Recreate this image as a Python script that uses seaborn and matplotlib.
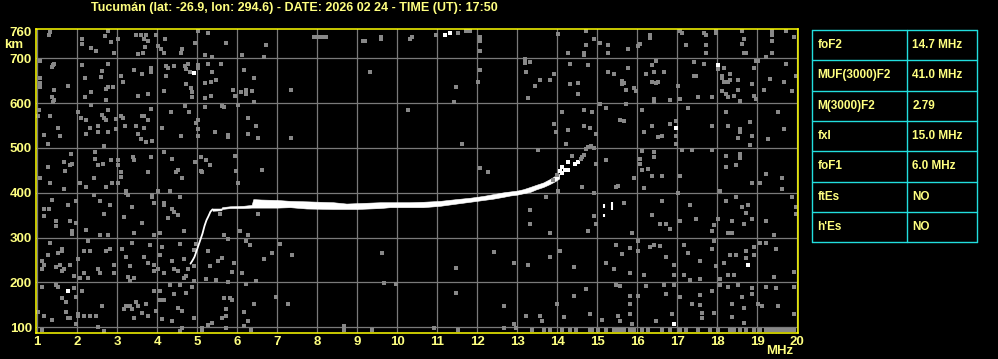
import matplotlib
matplotlib.use("Agg")
import matplotlib.pyplot as plt
import seaborn as sns
import pandas as pd

sns.set_style("dark")
plt.rcParams['font.family'] = ['Liberation Sans', 'DejaVu Sans']
plt.rcParams['font.weight'] = 'bold'

TITLE = "Tucumán (lat: -26.9, lon: 294.6) - DATE: 2026 02 24 - TIME (UT): 17:50"
freq_ticks = list(range(1, 21))
height_ticks = [100, 200, 300, 400, 500, 600, 700, 760]

param_names = ["foF2", "MUF(3000)F2", "M(3000)F2", "fxI", "foF1", "ftEs", "h'Es"]
param_values = ["14.7 MHz", "41.0 MHz", "2.79", "15.0 MHz", "6.0 MHz", "NO", "NO"]

# ---- O-trace: rising foot of the F layer
rise_freq = [4.83, 4.88, 4.93, 5.08, 5.13, 5.18, 5.23, 5.28, 5.33, 5.38]
rise_height = [242, 249, 257, 296, 309, 326, 339, 348, 358, 363]

# ---- main F trace band (lower / upper edge)
band_freq = [5.38, 5.60, 5.62, 5.82, 6.15, 6.36, 6.40, 6.60, 7.00, 7.32, 7.73, 8.40, 8.73,
             9.00, 9.57, 9.82, 10.30, 10.65, 11.07, 11.48, 11.82, 12.15, 12.40, 12.65,
             12.82, 13.00, 13.15, 13.32, 13.48, 13.65, 13.80, 13.95, 14.05]
band_low = [360, 361, 364, 366, 366, 367, 367, 367, 367, 368, 365, 364, 364,
            364, 366, 368, 368, 368, 371, 376, 380, 384, 387, 391,
            394, 396, 399, 402, 408, 413, 419, 426, 432]
band_high = [365, 365, 368, 370, 371, 373, 386, 385, 384, 382, 381, 379, 376,
             377, 379, 379, 379, 380, 382, 386, 389, 393, 397, 401,
             403, 405, 408, 413, 418, 423, 430, 438, 442]

# ---- broken top of the trace near foF2
cusp_white_freq = [14.07, 14.13, 14.13, 14.20, 14.28, 14.28, 14.45, 14.53]
cusp_white_height = [449, 457, 444, 452, 450, 469, 464, 469]
cusp_gray_freq = [13.90, 14.00, 14.60, 14.63, 14.68, 14.73, 14.78, 14.85]
cusp_gray_height = [428, 440, 476, 479, 484, 497, 502, 505]

# ---- X-trace fragments
xtrace_freq = [15.18, 15.18, 15.38]
xtrace_low = [366, 345, 362]
xtrace_high = [376, 353, 380]

# ---- background noise (freq MHz, height km)
noise_top_left = [
    (1.33, 758), (1.30, 752), (2.78, 761), (2.13, 743), (2.13, 732), (2.34, 724), (2.47, 717),
    (2.70, 749), (2.84, 736), (3.03, 742), (2.93, 712), (3.48, 751), (3.59, 752), (3.73, 752),
    (3.68, 743), (3.78, 739), (3.51, 710), (3.65, 712), (3.70, 725), (3.98, 752), (4.01, 728),
    (4.09, 721), (4.20, 743), (4.18, 712), (4.63, 721), (4.59, 712), (5.03, 761), (5.28, 756),
    (4.95, 734), (5.20, 707), (5.38, 703), (5.73, 734), (6.13, 707), (6.73, 730), (6.68, 703),
    (1.08, 693), (1.40, 685), (1.43, 688), (1.38, 680), (1.08, 655), (1.08, 645), (1.08, 635),
    (1.43, 630), (1.38, 613), (1.43, 608), (1.40, 603), (1.78, 639), (2.13, 684), (2.20, 655),
    (2.63, 672), (2.59, 658), (2.76, 687), (2.78, 635), (2.72, 632), (2.90, 635), (2.34, 624),
    (2.20, 613), (2.73, 608), (3.09, 661), (3.15, 648), (3.43, 675), (3.63, 665), (3.84, 678),
    (3.84, 669), (3.78, 620), (3.53, 617), (4.23, 682), (4.28, 678), (4.43, 682), (4.70, 682),
    (4.78, 687), (4.73, 676), (4.82, 669), (4.73, 643), (4.84, 633), (4.88, 624), (4.88, 613),
    (4.18, 626), (4.23, 661), (5.03, 685), (5.03, 678), (5.28, 687), (5.38, 669), (5.59, 687),
    (5.20, 646), (5.34, 648), (5.48, 652), (5.20, 611), (5.34, 617), (5.90, 630), (5.95, 617),
    (6.23, 630), (6.38, 626), (6.23, 620), (6.09, 624), (6.43, 603), (6.18, 675), (6.43, 655),
    (1.05, 585), (1.03, 572), (1.33, 571), (1.53, 545), (1.58, 527), (1.18, 529), (1.28, 509),
    (2.03, 581), (2.10, 566), (2.23, 563), (2.34, 596), (2.32, 544), (2.23, 531), (2.63, 574),
    (2.68, 566), (2.53, 550), (2.53, 536), (2.73, 563), (2.78, 585), (2.78, 536), (2.97, 565),
    (2.98, 542), (3.09, 571), (3.15, 566), (3.20, 550), (3.48, 550), (3.63, 571), (3.68, 572),
    (3.78, 563), (3.84, 587), (3.68, 544), (3.53, 531), (3.59, 520), (3.73, 513), (3.88, 516),
    (4.13, 544), (4.34, 580), (4.59, 527), (4.80, 580), (4.70, 593), (4.98, 556), (5.03, 563),
    (5.03, 542), (5.03, 527), (5.20, 591), (5.45, 536), (5.63, 593), (5.68, 591), (5.78, 529),
    (5.78, 524), (6.03, 596), (6.28, 566), (6.48, 550), (6.28, 531), (6.53, 523), (2.68, 505),
    (1.84, 487), (1.68, 469), (1.88, 464), (1.83, 461), (1.70, 449), (1.28, 457), (1.08, 432),
    (2.45, 492), (2.45, 475), (2.51, 461), (2.65, 464), (2.84, 474), (2.43, 432), (3.03, 474),
    (3.03, 461), (3.09, 446), (3.09, 435), (3.40, 481), (3.43, 474), (3.84, 479), (3.76, 447),
    (4.18, 492), (4.38, 475), (4.53, 452), (4.47, 446), (4.62, 432), (5.09, 479), (5.22, 474),
    (5.32, 461), (4.95, 468), (5.09, 449), (5.13, 446), (5.95, 483), (5.98, 449), (6.63, 452),
]
noise_top_right = [
    (7.93, 748), (8.03, 748), (8.13, 748), (8.23, 748), (9.15, 739), (9.20, 739), (9.59, 747),
    (9.59, 743), (10.38, 747), (10.33, 743), (10.98, 752), (11.53, 756), (11.73, 761),
    (11.83, 761), (12.08, 748), (12.08, 739), (12.08, 716), (9.33, 670), (12.08, 675),
    (12.03, 648), (11.48, 635), (11.43, 603), (7.34, 630), (13.19, 698), (13.19, 690),
    (13.33, 691), (13.23, 670), (13.58, 652), (13.44, 639), (13.28, 612), (10.28, 585),
    (7.34, 523), (11.63, 510), (13.53, 496), (12.08, 456), (12.28, 447),
    (14.03, 754), (14.73, 761), (14.93, 743), (14.73, 730), (14.28, 712), (14.68, 712),
    (14.68, 707), (15.08, 734), (15.28, 730), (15.28, 712), (15.78, 721), (16.08, 732),
    (16.03, 728), (16.33, 752), (16.33, 745), (17.08, 761), (17.13, 756), (17.23, 730),
    (17.68, 756), (17.73, 751), (17.73, 730), (17.73, 712), (17.98, 761), (17.98, 756),
    (18.63, 761), (18.68, 743), (18.63, 732), (18.68, 712), (18.73, 712), (19.38, 761),
    (19.38, 752), (19.38, 739), (19.73, 761), (19.93, 748), (19.38, 712), (19.23, 703),
    (14.33, 687), (14.78, 684), (13.93, 665), (13.83, 652), (14.33, 643), (14.53, 646),
    (14.53, 620), (15.28, 670), (15.43, 665), (15.63, 650), (15.68, 646), (15.63, 643),
    (15.78, 678), (15.73, 630), (15.93, 633), (15.98, 628), (16.38, 684), (16.48, 693),
    (16.43, 670), (16.23, 665), (16.38, 648), (16.48, 646), (16.53, 648), (16.68, 670),
    (16.43, 609), (16.43, 603), (16.83, 608), (17.03, 639), (17.08, 609), (17.43, 691),
    (17.43, 661), (17.48, 660), (17.53, 613), (17.68, 687), (17.88, 613), (18.03, 676),
    (18.13, 661), (18.13, 657), (18.18, 678), (18.18, 648), (18.33, 665), (18.28, 648),
    (18.33, 652), (18.13, 626), (18.23, 620), (18.28, 613), (18.43, 617), (18.53, 652),
    (18.53, 630), (18.58, 605), (18.88, 643), (18.93, 678), (18.93, 617), (18.98, 609),
    (18.98, 693), (19.03, 693), (19.33, 654), (19.18, 630), (19.68, 648), (19.88, 626),
    (19.98, 661), (19.73, 687), (14.13, 580), (13.93, 553), (13.98, 536), (14.28, 541),
    (14.68, 585), (14.88, 580), (14.68, 550), (14.83, 545), (14.98, 531), (15.08, 598),
    (15.23, 590), (15.58, 563), (15.68, 561), (15.73, 598), (16.13, 585), (16.18, 535),
    (16.38, 550), (16.53, 524), (16.63, 527), (16.83, 553), (16.98, 561), (16.98, 527),
    (16.98, 509), (17.28, 590), (17.88, 550), (18.23, 581), (18.28, 550), (18.58, 542),
    (18.58, 535), (18.53, 523), (18.83, 559), (18.88, 527), (18.83, 507), (19.28, 519),
    (19.53, 581), (19.68, 542), (14.23, 509), (14.38, 483), (14.93, 500), (14.98, 464),
    (15.23, 474), (15.93, 432), (16.08, 475), (16.13, 494), (16.08, 464), (16.13, 452),
    (16.28, 453), (16.38, 438), (16.43, 490), (16.43, 479), (16.63, 438), (17.08, 438),
    (17.13, 496), (17.38, 496), (17.88, 496), (18.23, 483), (18.23, 457), (18.48, 461),
    (18.58, 487), (18.58, 477), (19.23, 442), (19.63, 434),
]
noise_bottom_left = [
    (1.33, 422), (2.08, 422), (2.23, 413), (2.73, 413), (2.88, 422), (3.03, 422), (1.68, 408),
    (1.38, 383), (1.18, 364), (1.30, 364), (1.18, 349), (1.48, 337), (1.48, 326), (1.83, 337),
    (1.88, 309), (1.88, 315), (1.97, 333), (1.98, 382), (1.78, 373), (2.23, 318), (2.28, 292),
    (2.43, 395), (2.58, 382), (2.83, 373), (2.68, 353), (2.58, 306), (2.78, 306), (3.23, 404),
    (3.23, 400), (3.28, 395), (3.18, 346), (3.38, 368), (3.43, 311), (3.63, 333), (3.88, 391),
    (3.93, 377), (3.88, 395), (4.18, 377), (4.18, 373), (4.03, 404), (4.33, 404), (4.58, 391),
    (4.38, 363), (4.43, 358), (4.53, 350), (4.28, 343), (4.08, 311), (3.93, 306), (4.68, 315),
    (1.33, 288), (1.53, 266), (1.63, 274), (1.63, 270), (1.28, 261), (1.13, 248), (1.13, 229),
    (1.18, 239), (1.48, 234), (1.58, 239), (1.63, 226), (1.68, 229), (1.83, 239), (1.93, 214),
    (2.03, 252), (2.08, 211), (2.18, 270), (2.18, 222), (2.28, 209), (2.33, 270), (2.53, 229),
    (2.58, 222), (2.73, 270), (2.83, 274), (2.93, 239), (2.93, 222), (3.13, 274), (3.23, 257),
    (3.28, 212), (3.33, 203), (3.38, 289), (3.33, 237), (3.43, 209), (3.68, 257), (3.78, 244),
    (3.83, 284), (3.93, 239), (3.93, 226), (4.08, 261), (4.03, 231), (4.13, 279), (4.18, 222),
    (4.38, 248), (4.43, 229), (4.53, 226), (4.58, 285), (4.68, 252), (4.68, 211), (4.73, 214),
    (4.78, 231), (4.93, 272), (4.93, 237), (4.93, 203), (4.98, 285), (1.13, 190), (1.48, 194),
    (1.53, 190), (1.93, 188), (1.98, 168), (2.13, 182), (1.63, 165), (1.73, 157), (1.03, 135),
    (1.18, 125), (1.38, 116), (1.73, 135), (1.78, 121), (1.83, 121), (2.03, 130), (2.03, 125),
    (2.18, 125), (2.33, 125), (2.48, 125), (2.63, 147), (2.53, 101), (2.68, 92), (1.98, 107),
    (1.13, 93), (3.23, 147), (3.33, 147), (3.38, 140), (3.53, 147), (3.48, 157), (3.18, 140),
    (3.43, 121), (3.63, 133), (3.73, 151), (3.78, 125), (3.93, 181), (4.08, 181), (4.08, 160),
    (3.98, 136), (4.13, 118), (4.18, 160), (4.33, 194), (4.43, 174), (4.58, 194), (4.53, 144),
    (4.63, 136), (4.38, 114), (4.58, 92), (4.73, 177), (4.88, 190), (4.93, 121), (5.13, 99),
    (5.23, 207), (5.28, 270), (5.33, 237), (5.48, 205), (5.53, 248), (5.58, 352), (5.63, 254),
    (5.68, 306), (5.78, 202), (5.88, 224), (5.93, 244), (5.78, 298), (6.03, 422), (6.08, 315),
    (6.13, 222), (6.23, 292), (6.23, 196), (6.28, 306), (6.33, 284), (6.48, 203), (6.53, 352),
    (6.68, 252), (6.88, 266), (6.98, 168), (7.08, 285), (7.28, 153), (5.68, 165), (5.83, 166),
    (5.73, 140), (5.73, 125), (5.63, 121), (5.88, 162), (5.38, 110), (5.28, 105), (5.73, 99),
    (6.18, 135), (6.18, 103), (6.28, 114), (6.43, 153), (4.63, 99), (5.13, 95),
]
noise_bottom_right = [
    (7.38, 261), (9.63, 266), (12.43, 269), (11.48, 233), (12.93, 244), (13.28, 239),
    (13.33, 361), (13.33, 331), (9.68, 199), (9.98, 196), (11.48, 177), (12.68, 147),
    (13.23, 125), (13.58, 125), (13.63, 113), (12.93, 108), (8.68, 103), (8.68, 93),
    (10.93, 99), (11.53, 95), (12.68, 98), (12.98, 99), (13.38, 93),
    (14.03, 404), (13.73, 391), (14.63, 413), (14.93, 400), (14.93, 348), (14.98, 330),
    (14.78, 315), (13.83, 311), (15.48, 413), (15.53, 415), (15.68, 377), (15.88, 311),
    (16.18, 411), (16.63, 382), (16.38, 350), (16.58, 330), (16.73, 330), (16.83, 319),
    (17.08, 337), (17.33, 373), (17.48, 342), (17.03, 400), (18.23, 382), (18.48, 391),
    (18.63, 368), (18.78, 373), (18.73, 355), (18.88, 342), (18.68, 330), (18.28, 310),
    (18.38, 310), (18.38, 337), (17.88, 315), (17.93, 328), (18.03, 342), (18.08, 404),
    (18.88, 422), (19.08, 422), (19.63, 408), (19.88, 391), (19.98, 368), (19.98, 352),
    (19.23, 337), (19.43, 306), (14.08, 270), (13.83, 257), (14.43, 234), (15.23, 244),
    (15.48, 284), (15.63, 264), (15.83, 278), (15.43, 230), (15.83, 222), (16.03, 292),
    (16.03, 270), (16.18, 217), (16.33, 279), (16.43, 284), (16.58, 281), (16.73, 257),
    (16.93, 239), (17.18, 284), (17.28, 266), (17.58, 248), (16.93, 217), (17.18, 217),
    (17.58, 208), (17.88, 275), (17.93, 292), (17.98, 237), (18.08, 208), (18.18, 244),
    (18.28, 217), (18.33, 261), (18.43, 217), (18.48, 261), (18.73, 270), (18.73, 255),
    (18.93, 279), (18.93, 261), (19.08, 287), (19.23, 289), (19.48, 275), (19.43, 212),
    (19.93, 224), (14.00, 153), (14.18, 123), (14.43, 170), (14.73, 185), (14.83, 130),
    (15.13, 117), (15.48, 194), (15.58, 192), (15.53, 125), (15.58, 114), (15.83, 170),
    (15.83, 153), (15.83, 130), (15.88, 107), (16.03, 170), (16.23, 192), (16.48, 114),
    (16.68, 194), (16.73, 175), (16.88, 130), (16.93, 194), (17.08, 168), (17.38, 153),
    (17.58, 172), (17.58, 150), (17.63, 133), (17.63, 121), (17.88, 181), (17.93, 133),
    (18.08, 194), (18.28, 190), (18.38, 123), (18.38, 153), (18.53, 194), (18.68, 144),
    (18.63, 168), (18.68, 110), (18.88, 187), (18.88, 174), (19.03, 153), (19.13, 147),
    (19.23, 190), (19.48, 188), (19.53, 147), (19.93, 190), (19.93, 130), (17.33, 205),
]
noise_floor_freq = [13.67, 13.83, 14.13, 14.33, 14.48, 14.83, 14.88, 15.03, 15.23, 15.43,
                    15.53, 15.58, 15.68, 15.83, 15.93, 16.13, 16.28, 16.63, 16.83, 17.08,
                    17.23, 17.53, 17.83, 18.03, 18.33, 18.43, 18.58, 18.73, 18.93, 19.08,
                    19.23, 19.33, 19.43, 19.53, 19.63, 19.73, 19.83, 19.93, 9.38, 6.35]
noise_floor_height = [93] * len(noise_floor_freq)
noise_white = [(1.78, 182), (11.19, 752), (11.32, 756), (18.03, 684), (16.98, 545),
               (18.78, 239), (16.93, 108), (4.93, 667)]

# ---------------------------------------------------------------- figure
W, H = 998, 359
BG = "black"
FRAME = "#ffff00"
TXT = "#ffff80"
GRID = "#7a7a7a"
NOISE = "#888888"
CYAN = "#22dede"

fig = plt.figure(figsize=(W / 100, H / 100), dpi=100, facecolor=BG)
ax = fig.add_axes([35.5 / W, 1 - 332.7 / H, (798 - 35.5) / W, (332.7 - 29) / H])
ax.set_facecolor(BG)

noise_all = noise_top_left + noise_top_right + noise_bottom_left + noise_bottom_right
noise_df = pd.DataFrame(noise_all, columns=["freq", "height"])
floor_df = pd.DataFrame({"freq": noise_floor_freq, "height": noise_floor_height})
white_df = pd.DataFrame(noise_white, columns=["freq", "height"])

sns.scatterplot(data=noise_df, x="freq", y="height", marker="s", s=5, color=NOISE,
                linewidth=0, ax=ax, zorder=3)
sns.scatterplot(data=floor_df, x="freq", y="height", marker="s", s=9, color=NOISE,
                linewidth=0, ax=ax, zorder=3)
sns.scatterplot(data=white_df, x="freq", y="height", marker="s", s=5, color="white",
                linewidth=0, ax=ax, zorder=4)

# trace
sns.lineplot(x=rise_freq, y=rise_height, color="white", lw=1.3, ax=ax, zorder=5,
             sort=False)
ax.fill_between(band_freq, band_low, band_high, color="white", lw=0.4,
                edgecolor="white", zorder=5)
sns.scatterplot(x=cusp_white_freq, y=cusp_white_height, marker="s", s=5, color="white",
                linewidth=0, ax=ax, zorder=5)
sns.scatterplot(x=cusp_gray_freq, y=cusp_gray_height, marker="s", s=5, color=NOISE,
                linewidth=0, ax=ax, zorder=5)
ax.vlines(xtrace_freq, xtrace_low, xtrace_high, color="white", lw=1.5, zorder=5)

ax.set_xlim(0.955, 20.02)
ax.set_ylim(88, 765.4)
ax.set_xticks(freq_ticks)
ax.set_yticks(height_ticks)
ax.set_xticklabels([str(v) for v in freq_ticks])
ax.set_yticklabels([str(v) for v in height_ticks])
ax.set_xlabel("")
ax.set_ylabel("")
ax.grid(False)
for f in freq_ticks:
    ax.axvline(f, color=GRID, lw=0.9, zorder=1)
for hgt in height_ticks[:-1]:
    ax.axhline(hgt, color=GRID, lw=0.9, zorder=1)
ax.tick_params(axis="both", length=0, colors=TXT, labelsize=9.5)
ax.tick_params(axis="x", pad=2.5)
ax.tick_params(axis="y", pad=2.5)
for lab in ax.get_xticklabels() + ax.get_yticklabels():
    lab.set_fontweight("bold")
for sp in ax.spines.values():
    sp.set_visible(True)
    sp.set_color(FRAME)
    sp.set_linewidth(1.1)
    sp.set_zorder(6)

fig.text(294.5 / W, 1 - 11 / H, TITLE, color=TXT, fontsize=9, fontweight="bold",
         ha="center", va="baseline")
fig.text(14 / W, 1 - 45 / H, "km", color=TXT, fontsize=9.5, fontweight="bold",
         ha="center", va="center")
fig.text(780 / W, 1 - 351 / H, "MHz", color=TXT, fontsize=9.5, fontweight="bold",
         ha="center", va="center")

# parameter table
tx0, tx1, ty0, ty1 = 812.3, 977.3, 30.0, 242.3
tab = fig.add_axes([tx0 / W, 1 - ty1 / H, (tx1 - tx0) / W, (ty1 - ty0) / H])
tab.set_xlim(0, tx1 - tx0)
tab.set_ylim(len(param_names), 0)
tab.axis("off")
n = len(param_names)
for i in range(n + 1):
    tab.plot([0, tx1 - tx0], [i, i], color=CYAN, lw=1.0, clip_on=False)
for xv in [0, 907.3 - tx0, tx1 - tx0]:
    tab.plot([xv, xv], [0, n], color=CYAN, lw=1.0, clip_on=False)
for i, (nm, val) in enumerate(zip(param_names, param_values)):
    tab.text(5, i + 0.5, nm, color=TXT, fontsize=8.5, fontweight="bold", va="center", ha="left")
    tab.text(907.3 - tx0 + 5, i + 0.5, val, color=TXT, fontsize=8.5, fontweight="bold",
             va="center", ha="left")

fig.savefig("out.png", dpi=100, facecolor=BG)
